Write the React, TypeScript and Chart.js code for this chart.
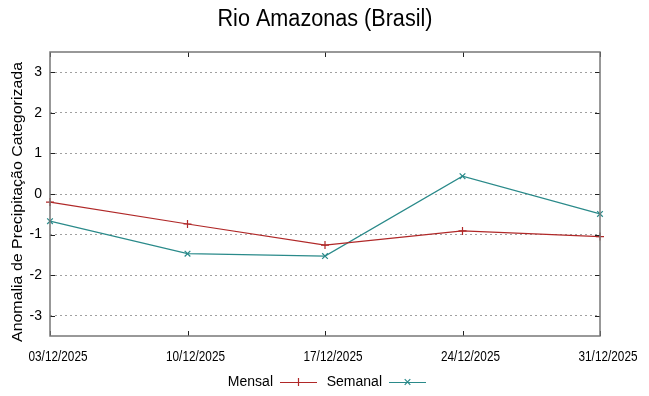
import React, { useEffect, useRef } from "react";
import { Chart, registerables } from "chart.js";

Chart.register(...registerables);

const categories = ["03/12/2025", "10/12/2025", "17/12/2025", "24/12/2025", "31/12/2025"];
const mensal = [-0.2, -0.74, -1.26, -0.91, -1.05];
const semanal = [-0.67, -1.47, -1.53, 0.44, -0.49];
const yTicks = [-3, -2, -1, 0, 1, 2, 3];
const titleText = "Rio Amazonas (Brasil)";
const yTitleText = "Anomalia de Precipitação Categorizada";

const RED = "#b02828";
const TEAL = "#2a8a8a";
const FONT = "'Liberation Sans', Arial, sans-serif";

function fitText(ctx: any, text: string, cx: number, cy: number, size: number, width: number, rot = 0) {
  ctx.save();
  ctx.font = `${size}px ${FONT}`;
  const w = ctx.measureText(text).width;
  ctx.translate(cx, cy);
  ctx.rotate(rot);
  ctx.scale(width / w, 1);
  ctx.textAlign = "center";
  ctx.textBaseline = "middle";
  ctx.fillStyle = "#000";
  ctx.fillText(text, 0, 0);
  ctx.restore();
}

const framePlugin = {
  id: "frame",
  afterDraw(chart: any) {
    const { ctx, chartArea } = chart;
    const { left, right, top, bottom } = chartArea;
    const ys = chart.scales.y;
    const xs = chart.scales.x;
    ctx.save();
    // ticks
    ctx.strokeStyle = "#222";
    ctx.lineWidth = 1;
    ctx.beginPath();
    yTicks.forEach((v) => {
      const y = Math.round(ys.getPixelForValue(v)) + 0.5;
      ctx.moveTo(left, y);
      ctx.lineTo(left + 5, y);
      ctx.moveTo(right, y);
      ctx.lineTo(right - 5, y);
    });
    categories.forEach((_, i) => {
      const x = Math.round(xs.getPixelForValue(i)) + 0.5;
      ctx.moveTo(x, bottom);
      ctx.lineTo(x, bottom - 5);
      ctx.moveTo(x, top);
      ctx.lineTo(x, top + 5);
    });
    ctx.stroke();
    // border
    ctx.strokeStyle = "#777";
    ctx.lineWidth = 1.5;
    ctx.strokeRect(left, top, right - left, bottom - top);
    // x labels
    categories.forEach((c, i) => {
      fitText(ctx, c, xs.getPixelForValue(i) + 8, 357, 14, 59);
    });
    // title
    fitText(ctx, titleText, 325, 20, 23, 215);
    // y title
    fitText(ctx, yTitleText, 18, 202, 15, 280, -Math.PI / 2);
    // legend
    ctx.font = `14px ${FONT}`;
    ctx.textAlign = "right";
    ctx.textBaseline = "middle";
    const ly = 382;
    const drawEntry = (label: string, textRight: number, x0: number, x1: number, color: string, marker: string) => {
      ctx.fillStyle = "#000";
      ctx.fillText(label, textRight, ly);
      ctx.strokeStyle = color;
      ctx.lineWidth = 1.2;
      ctx.beginPath();
      ctx.moveTo(x0, ly + 0.5);
      ctx.lineTo(x1, ly + 0.5);
      const cx = (x0 + x1) / 2;
      const r = 4;
      if (marker === "plus") {
        ctx.moveTo(cx, ly - r);
        ctx.lineTo(cx, ly + r);
      } else {
        ctx.moveTo(cx - r * 0.7, ly - r * 0.7);
        ctx.lineTo(cx + r * 0.7, ly + r * 0.7);
        ctx.moveTo(cx - r * 0.7, ly + r * 0.7);
        ctx.lineTo(cx + r * 0.7, ly - r * 0.7);
      }
      ctx.stroke();
    };
    drawEntry("Mensal", 273, 280, 317, RED, "plus");
    drawEntry("Semanal", 382, 389, 426, TEAL, "cross");
    ctx.restore();
  },
};

export default function App() {
  const ref = useRef<HTMLCanvasElement>(null);
  useEffect(() => {
    if (!ref.current) return;
    const chart = new Chart(ref.current, {
      type: "line",
      data: {
        labels: categories,
        datasets: [
          {
            label: "Mensal",
            data: mensal,
            borderColor: RED,
            backgroundColor: RED,
            borderWidth: 1.2,
            pointStyle: "cross",
            pointRadius: 4,
            pointBorderWidth: 1.2,
            tension: 0,
          },
          {
            label: "Semanal",
            data: semanal,
            borderColor: TEAL,
            backgroundColor: TEAL,
            borderWidth: 1.2,
            pointStyle: "crossRot",
            pointRadius: 4,
            pointBorderWidth: 1.2,
            tension: 0,
          },
        ],
      },
      options: {
        animation: false,
        responsive: false,
        layout: { padding: { top: 52, right: 49, left: 0, bottom: 0 } },
        plugins: { legend: { display: false }, tooltip: { enabled: false } },
        scales: {
          x: {
            type: "category",
            offset: false,
            grid: { display: false, drawTicks: false },
            border: { display: false },
            ticks: { display: false },
            afterFit: (s: any) => {
              s.height = 60;
            },
          },
          y: {
            type: "linear",
            min: -3.5,
            max: 3.5,
            afterBuildTicks: (s: any) => {
              s.ticks = yTicks.map((v) => ({ value: v }));
            },
            afterFit: (s: any) => {
              s.width = 50;
            },
            grid: {
              drawTicks: false,
              color: "#a0a0a0",
              lineWidth: 1,
            },
            border: { display: false, dash: [2, 3] },
            ticks: {
              color: "#000",
              padding: 8,
              font: { family: FONT, size: 14 },
            },
          },
        },
      },
      plugins: [framePlugin],
    } as any);
    return () => chart.destroy();
  }, []);
  return (
    <div style={{ position: "absolute", left: 0, top: 0, width: 649, height: 396 }}>
      <canvas ref={ref} width={649} height={396} style={{ width: 649, height: 396 }} />
    </div>
  );
}
